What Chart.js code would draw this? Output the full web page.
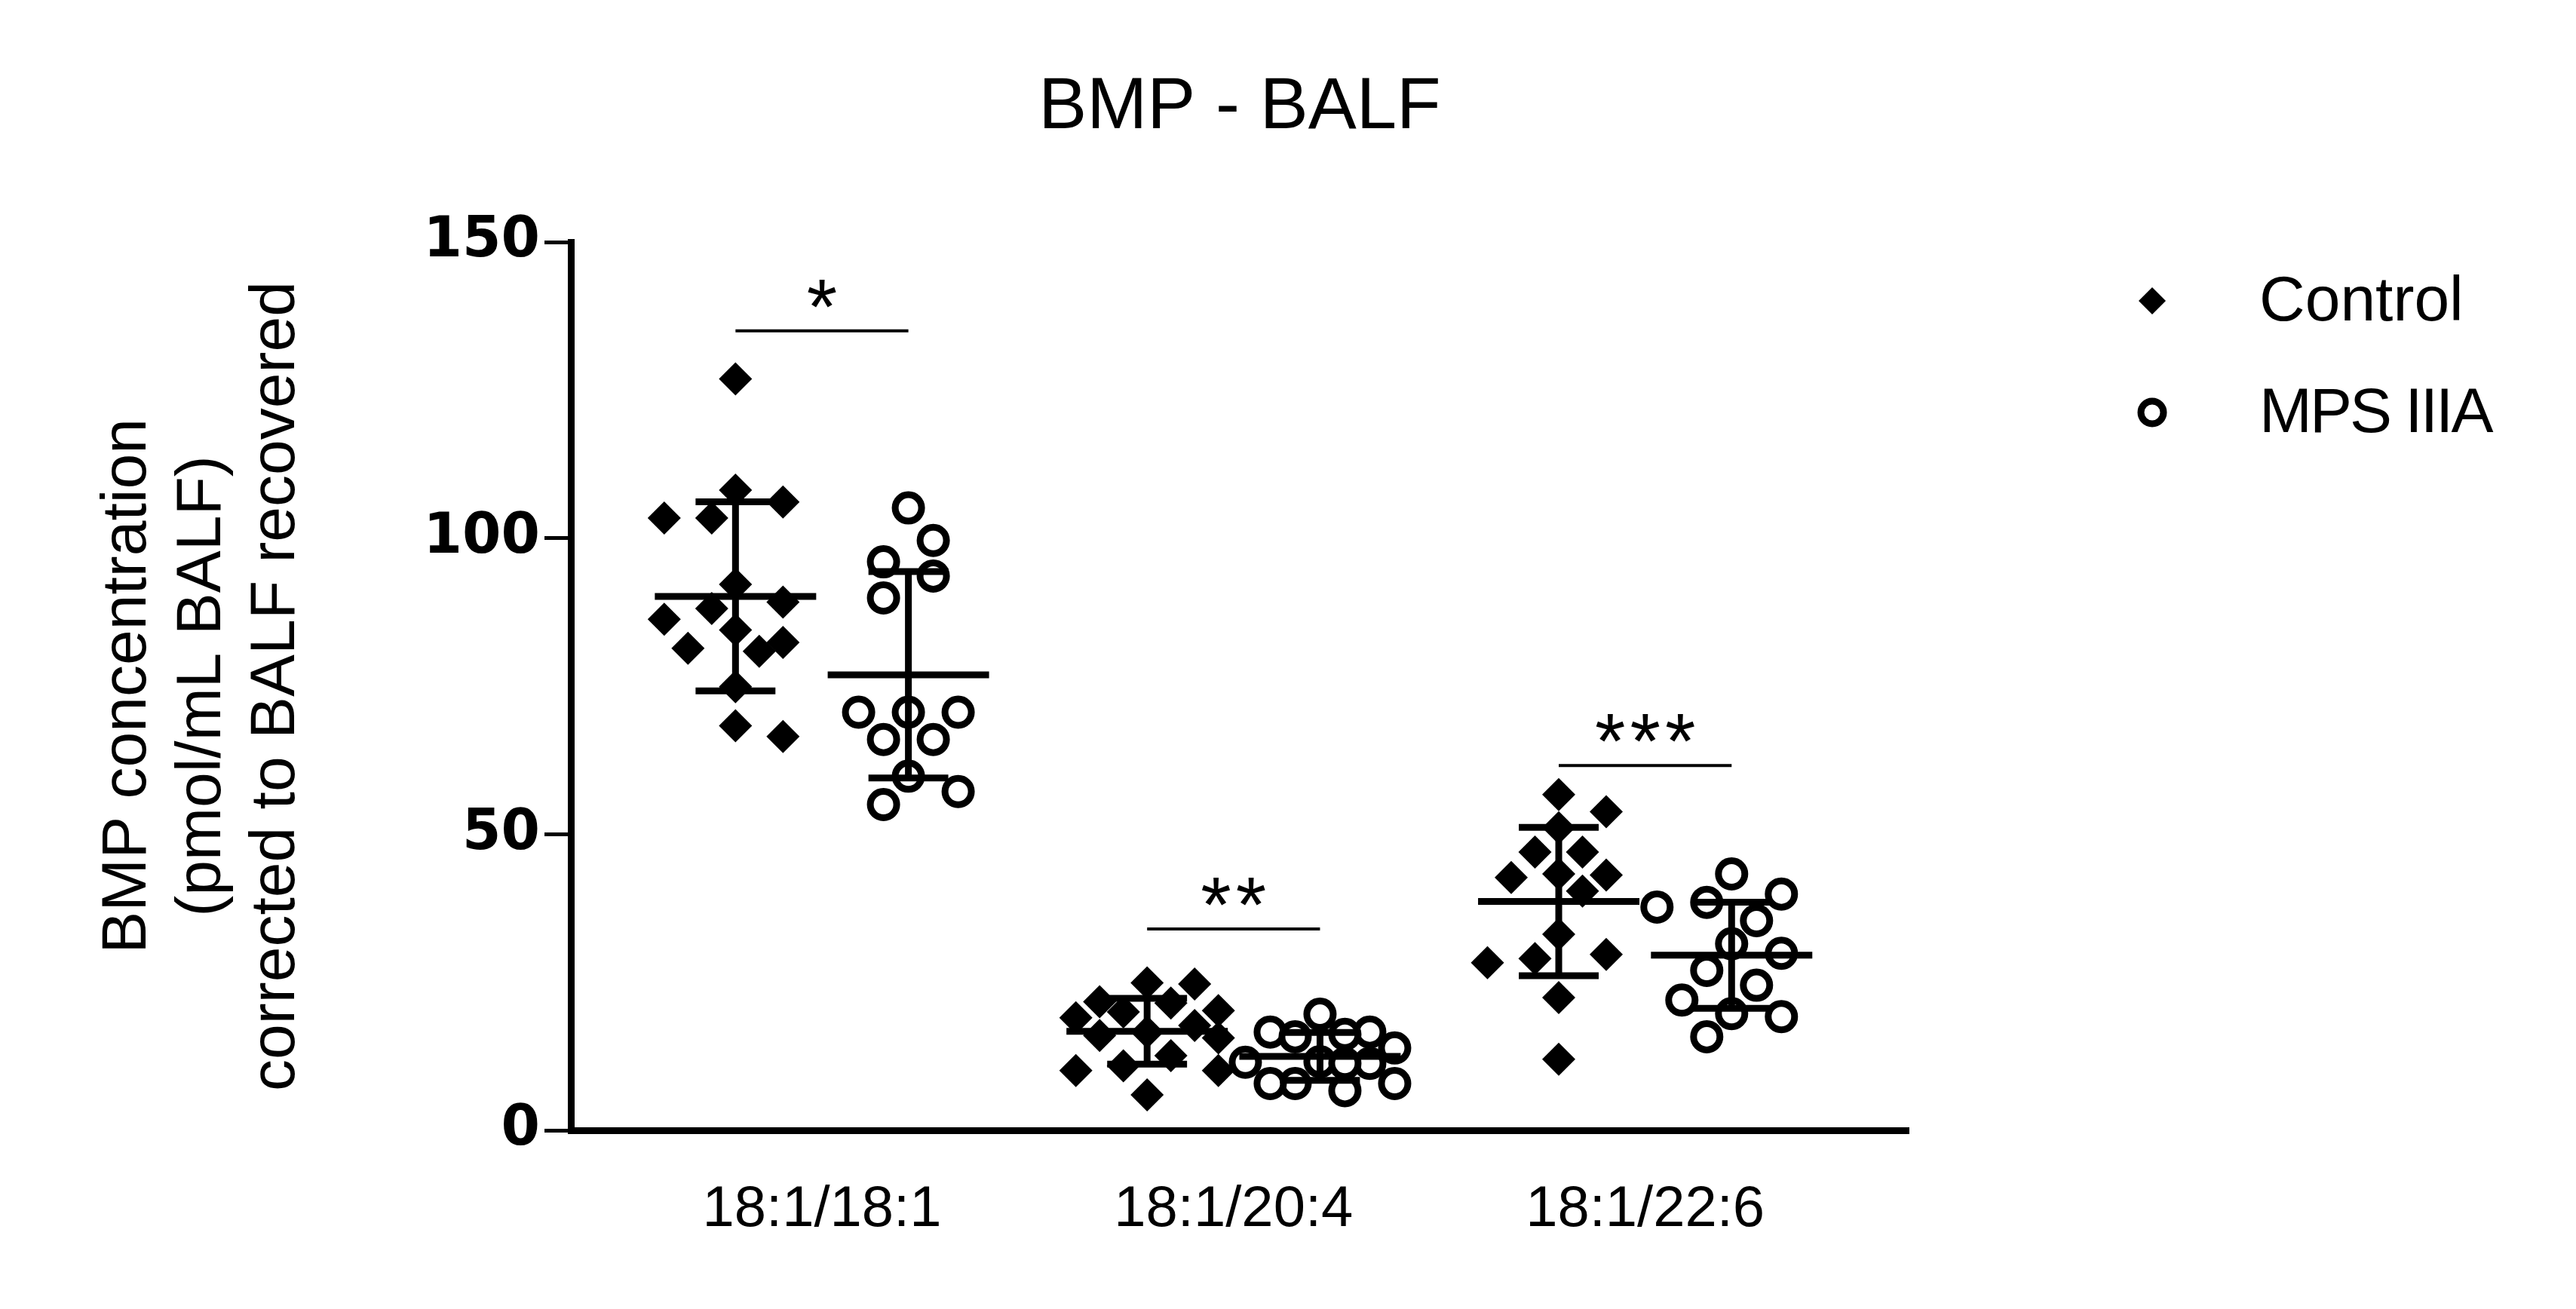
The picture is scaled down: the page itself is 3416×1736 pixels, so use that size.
<!DOCTYPE html>
<html>
<head>
<meta charset="utf-8">
<script src="https://cdn.jsdelivr.net/npm/chart.js@4.4.1/dist/chart.umd.min.js"></script>
<style>
  html, body { margin: 0; padding: 0; background: #fff; }
  canvas { display: block; }
</style>
</head>
<body>
<canvas id="bmpChart" width="3416" height="1736"></canvas>
<script>
// data
const categories = ['18:1/18:1', '18:1/20:4', '18:1/22:6'];
const seriesNames = ['Control', 'MPS IIIA'];

const control1818 = [126.9, 108.1, 106.1, 103.4, 103.4, 92.2, 89.2, 88.1, 86.3, 84.5, 82.4, 81.4, 80.9, 74.9, 68.3, 66.5];
const control2004 = [24.7, 24.9, 21.7, 21.5, 20.2, 20.0, 19.0, 17.7, 16.6, 16.0, 15.6, 12.6, 10.9, 10.1, 10.1, 6.0];
const control2206 = [56.7, 53.8, 51.1, 47.0, 47.0, 43.3, 43.1, 42.7, 40.4, 33.1, 29.7, 29.0, 28.3, 22.4, 12.0];

const mps1818 = [105.1, 99.6, 96.0, 93.6, 89.9, 70.6, 70.6, 70.6, 66.0, 66.0, 59.8, 57.2, 55.0];
const mps2004 = [19.6, 16.6, 16.6, 16.2, 15.8, 13.9, 11.6, 11.5, 11.3, 11.3, 7.9, 7.9, 7.9, 6.7];
const mps2206 = [43.3, 39.9, 38.5, 37.7, 35.4, 31.5, 29.9, 27.0, 24.5, 22.0, 19.7, 19.2, 15.8];

const yTicks = [0, 50, 100, 150];
const sigLabels = ['*', '**', '***'];
const sigLevels = [135, 34, 61.6];

const controlGroups = [control1818, control2004, control2206];
const mpsGroups = [mps1818, mps2004, mps2206];

// axis ranges and the plot box they are drawn into
const X_MIN = -0.61, X_MAX = 2.64, Y_MIN = 0, Y_MAX = 150;
const PLOT_W = 1774, PLOT_H = 1178;
const pxPerX = PLOT_W / (X_MAX - X_MIN);
const pxPerY = PLOT_H / (Y_MAX - Y_MIN);
const GROUP_OFFSET = 0.21;

// beeswarm limited to a fixed width; when crowded, take the least-overlapping slot
function swarm(values, center, size, maxK) {
  const step = size * 0.75;
  const placed = [];
  const out = [];
  const order = values.map((v, i) => i).sort((a, b) => values[b] - values[a]);
  const cands = [0];
  for (let k = 1; k <= maxK; k++) cands.push(k * step, -k * step);
  order.forEach(i => {
    const py = values[i] * pxPerY;
    let best = 0, bestD = -1;
    for (const cx of cands) {
      const d = placed.reduce((m, p) => Math.min(m, Math.hypot(p.x - cx, p.y - py)), Infinity);
      if (d >= size) { best = cx; bestD = d; break; }
      if (d > bestD + 0.5) { best = cx; bestD = d; }
    }
    placed.push({ x: best, y: py });
    out[i] = { x: center + best / pxPerX, y: values[i] };
  });
  return out;
}

const controlPoints = controlGroups.flatMap((vals, i) => swarm(vals, i - GROUP_OFFSET, 42, 3));
const mpsPoints = mpsGroups.flatMap((vals, i) => swarm(vals, i + GROUP_OFFSET, 44, 3));

function meanSd(vals) {
  const m = vals.reduce((a, b) => a + b, 0) / vals.length;
  const v = vals.reduce((a, b) => a + (b - m) * (b - m), 0) / (vals.length - 1);
  return [m, Math.sqrt(v)];
}

const overlay = {
  id: 'overlay',
  afterDatasetsDraw(chart) {
    const ctx = chart.ctx;
    const xs = chart.scales.x, ys = chart.scales.y;
    const area = chart.chartArea;
    ctx.save();
    ctx.strokeStyle = '#000';
    ctx.fillStyle = '#000';

    // mean + SD bars
    ctx.lineWidth = 9;
    [controlGroups, mpsGroups].forEach((groups, g) => {
      groups.forEach((vals, i) => {
        const [m, sd] = meanSd(vals);
        const c = i + (g === 0 ? -GROUP_OFFSET : GROUP_OFFSET);
        const px = xs.getPixelForValue(c);
        const hw = xs.getPixelForValue(c + 0.196) - px;
        const cw = xs.getPixelForValue(c + 0.097) - px;
        const yM = ys.getPixelForValue(m), yT = ys.getPixelForValue(m + sd), yB = ys.getPixelForValue(m - sd);
        ctx.beginPath();
        ctx.moveTo(px - hw, yM); ctx.lineTo(px + hw, yM);
        ctx.moveTo(px, yT); ctx.lineTo(px, yB);
        ctx.moveTo(px - cw, yT); ctx.lineTo(px + cw, yT);
        ctx.moveTo(px - cw, yB); ctx.lineTo(px + cw, yB);
        ctx.stroke();
      });
    });

    // significance bars
    ctx.lineWidth = 4;
    ctx.font = '104px "Liberation Sans", Arial, sans-serif';
    ctx.textAlign = 'center';
    ctx.textBaseline = 'alphabetic';
    if ('letterSpacing' in ctx) ctx.letterSpacing = '6px';
    sigLabels.forEach((lab, i) => {
      const x1 = xs.getPixelForValue(i - GROUP_OFFSET), x2 = xs.getPixelForValue(i + GROUP_OFFSET);
      const y = ys.getPixelForValue(sigLevels[i]);
      ctx.beginPath();
      ctx.moveTo(x1, y); ctx.lineTo(x2, y);
      ctx.stroke();
      ctx.fillText(lab, (x1 + x2) / 2 + 3, y + 4);
    });
    if ('letterSpacing' in ctx) ctx.letterSpacing = '0px';

    // title
    ctx.font = '96px "Liberation Sans", Arial, sans-serif';
    ctx.fillText('BMP - BALF', (area.left + area.right) / 2, 170);

    // legend
    const lx = area.right + 323, tx = area.right + 465;
    const ly = [area.top + 78, area.top + 226];
    ctx.beginPath();
    ctx.moveTo(lx - 18, ly[0]); ctx.lineTo(lx, ly[0] - 18);
    ctx.lineTo(lx + 18, ly[0]); ctx.lineTo(lx, ly[0] + 18);
    ctx.closePath();
    ctx.fill();
    ctx.lineWidth = 9;
    ctx.beginPath();
    ctx.arc(lx, ly[1], 15, 0, Math.PI * 2);
    ctx.stroke();
    ctx.font = '84px "Liberation Sans", Arial, sans-serif';
    ctx.textAlign = 'left';
    ctx.textBaseline = 'middle';
    ctx.fillText(seriesNames[0], tx, ly[0] + 3);
    if ('letterSpacing' in ctx) ctx.letterSpacing = '-3px';
    ctx.fillText(seriesNames[1], tx, ly[1] + 3);
    ctx.restore();
  }
};

const ctx = document.getElementById('bmpChart').getContext('2d');
const bmpChart = new Chart(ctx, {
  type: 'scatter',
  data: {
    datasets: [{
      label: seriesNames[0],
      data: controlPoints,
      pointStyle: 'rectRot',
      pointRadius: 22,
      backgroundColor: '#000',
      borderColor: '#000',
      borderWidth: 0
    }, {
      label: seriesNames[1],
      data: mpsPoints,
      pointStyle: 'circle',
      pointRadius: 17.5,
      backgroundColor: '#fff',
      borderColor: '#000',
      borderWidth: 9
    }]
  },
  options: {
    responsive: false,
    animation: false,
    events: [],
    layout: { padding: { left: 121, top: 321, right: 885, bottom: 37 } },
    plugins: {
      legend: { display: false },
      tooltip: { enabled: false },
      title: { display: false }
    },
    scales: {
      x: {
        type: 'linear',
        min: X_MIN,
        max: X_MAX,
        afterBuildTicks: s => { s.ticks = categories.map((c, i) => ({ value: i })); },
        afterFit: s => { s.height = 200; },
        ticks: {
          callback: v => categories[v],
          color: '#000',
          font: { family: '"Liberation Sans", Arial, sans-serif', size: 76 },
          padding: 52,
          maxRotation: 0,
          autoSkip: false
        },
        grid: { display: false },
        border: { display: true, color: '#000', width: 9 }
      },
      y: {
        min: Y_MIN,
        max: Y_MAX,
        afterBuildTicks: s => { s.ticks = yTicks.map(v => ({ value: v })); },
        afterFit: s => { s.width = 636; },
        ticks: {
          color: '#000',
          font: { family: '"DejaVu Sans", sans-serif', weight: 'bold', size: 74 },
          padding: 6
        },
        grid: {
          drawOnChartArea: false,
          drawTicks: true,
          tickLength: 35,
          tickWidth: 5,
          lineWidth: 5,
          color: '#000',
          tickColor: '#000'
        },
        border: { display: true, color: '#000', width: 9 },
        title: {
          display: true,
          text: ['BMP concentration', '(pmol/mL BALF)', 'corrected to BALF recovered'],
          color: '#000',
          font: { family: '"Liberation Sans", Arial, sans-serif', size: 84, lineHeight: 1.17 },
          padding: { top: 0, bottom: 0 }
        }
      }
    }
  },
  plugins: [overlay]
});
</script>
</body>
</html>
